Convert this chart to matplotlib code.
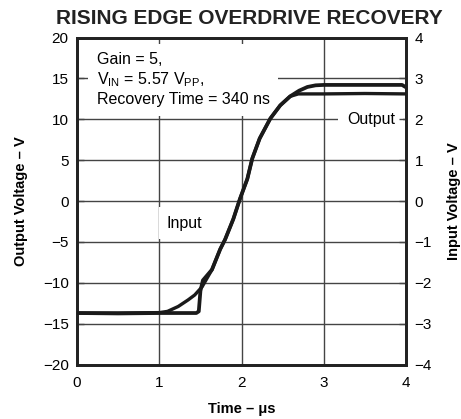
import numpy as np
import matplotlib
matplotlib.use("Agg")
import matplotlib.pyplot as plt

plt.rcParams['font.family'] = ['Liberation Sans', 'DejaVu Sans']
plt.rcParams['mathtext.fontset'] = 'custom'
plt.rcParams['mathtext.rm'] = 'Liberation Sans'

# output trace, left axis (V)
out_t = [0.0, 0.5, 1.0, 1.2, 1.45, 1.48, 1.50, 1.53, 1.64, 1.74, 1.80, 1.90, 1.98, 2.07,
         2.13, 2.22, 2.35, 2.47, 2.59, 2.70, 2.80, 2.90, 3.0, 3.5, 3.95, 4.0]
out_v = [-13.7, -13.75, -13.7, -13.7, -13.7, -13.5, -11.0, -9.7, -8.4, -5.9, -4.7, -2.2, 0.25, 2.7,
         5.2, 7.65, 10.1, 11.7, 12.8, 13.5, 13.95, 14.15, 14.2, 14.2, 14.2, 13.9]

# input trace, right axis (V)
in_t = [0.0, 0.5, 1.0, 1.1, 1.23, 1.35, 1.43, 1.52, 1.64, 1.74, 1.80, 1.90, 1.98, 2.07,
        2.13, 2.22, 2.35, 2.47, 2.59, 2.69, 2.8, 3.0, 3.5, 4.0]
in_v = [-2.74, -2.74, -2.73, -2.70, -2.58, -2.42, -2.30, -2.10, -1.68, -1.18, -0.94, -0.44, 0.05, 0.54,
        1.04, 1.53, 2.02, 2.34, 2.56, 2.62, 2.62, 2.62, 2.63, 2.62]

x_ticks = [0, 1, 2, 3, 4]
left_ticks = [-20, -15, -10, -5, 0, 5, 10, 15, 20]
right_ticks = [-4, -3, -2, -1, 0, 1, 2, 3, 4]

fig = plt.figure(figsize=(4.61, 4.19), dpi=100)
ax = fig.add_axes([0.167, 0.130, 0.714, 0.7805])
ax2 = ax.twinx()

ax.set_xlim(0, 4)
ax.set_ylim(-20, 20)
ax2.set_ylim(-4, 4)
ax.set_xticks(x_ticks)
ax.set_yticks(left_ticks)
ax2.set_yticks(right_ticks)
fmt = lambda v: str(v).replace('-', '\u2212')
ax.set_yticklabels([fmt(v) for v in left_ticks])
ax2.set_yticklabels([fmt(v) for v in right_ticks])

ax.set_axisbelow(True)
ax.grid(True, color='#444444', linewidth=1.0)
ax.tick_params(direction='in', length=5, width=1, color='#444444', labelsize=11,
               top=True, pad=6)
ax.tick_params(axis='x', length=0, pad=8)
ax2.tick_params(direction='in', length=5, width=1, color='#444444', labelsize=11, pad=6)
for a in (ax, ax2):
    for s in a.spines.values():
        s.set_linewidth(2.0)
        s.set_color('#222222')

ax.plot(out_t, out_v, color='#1a1a1a', linewidth=2.7, zorder=3, solid_joinstyle='round')
ax2.plot(in_t, in_v, color='#1a1a1a', linewidth=2.4, zorder=3, solid_joinstyle='round')

box = dict(facecolor='white', edgecolor='none', pad=6)
ax.text(0.24, 18.2, 'Gain = 5,\n' + r'$\mathregular{V_{IN}}$ = 5.57 $\mathregular{V_{PP}}$,' + '\nRecovery Time = 340 ns',
        fontsize=11.5, va='top', ha='left', linespacing=1.25, bbox=box, zorder=2.5)
ax.text(3.57, 10.0, 'Output', fontsize=11.5, va='center', ha='center', bbox=box, zorder=2.5)
ax.text(1.31, -2.7, 'Input', fontsize=11.5, va='center', ha='center', bbox=box, zorder=2.5)

ax.set_xlabel('Time \u2013 \u03bcs', fontsize=10.5, fontweight='bold', labelpad=9)
ax.set_ylabel('Output Voltage \u2013 V', fontsize=10.5, fontweight='bold', labelpad=11)
ax2.set_ylabel('Input Voltage \u2013 V', fontsize=10.5, fontweight='bold', labelpad=11)
fig.text(0.54, 0.957, 'RISING EDGE OVERDRIVE RECOVERY', fontsize=15, fontweight='bold',
         ha='center', va='center', color='#222222')

fig.savefig('out.png', dpi=100)
